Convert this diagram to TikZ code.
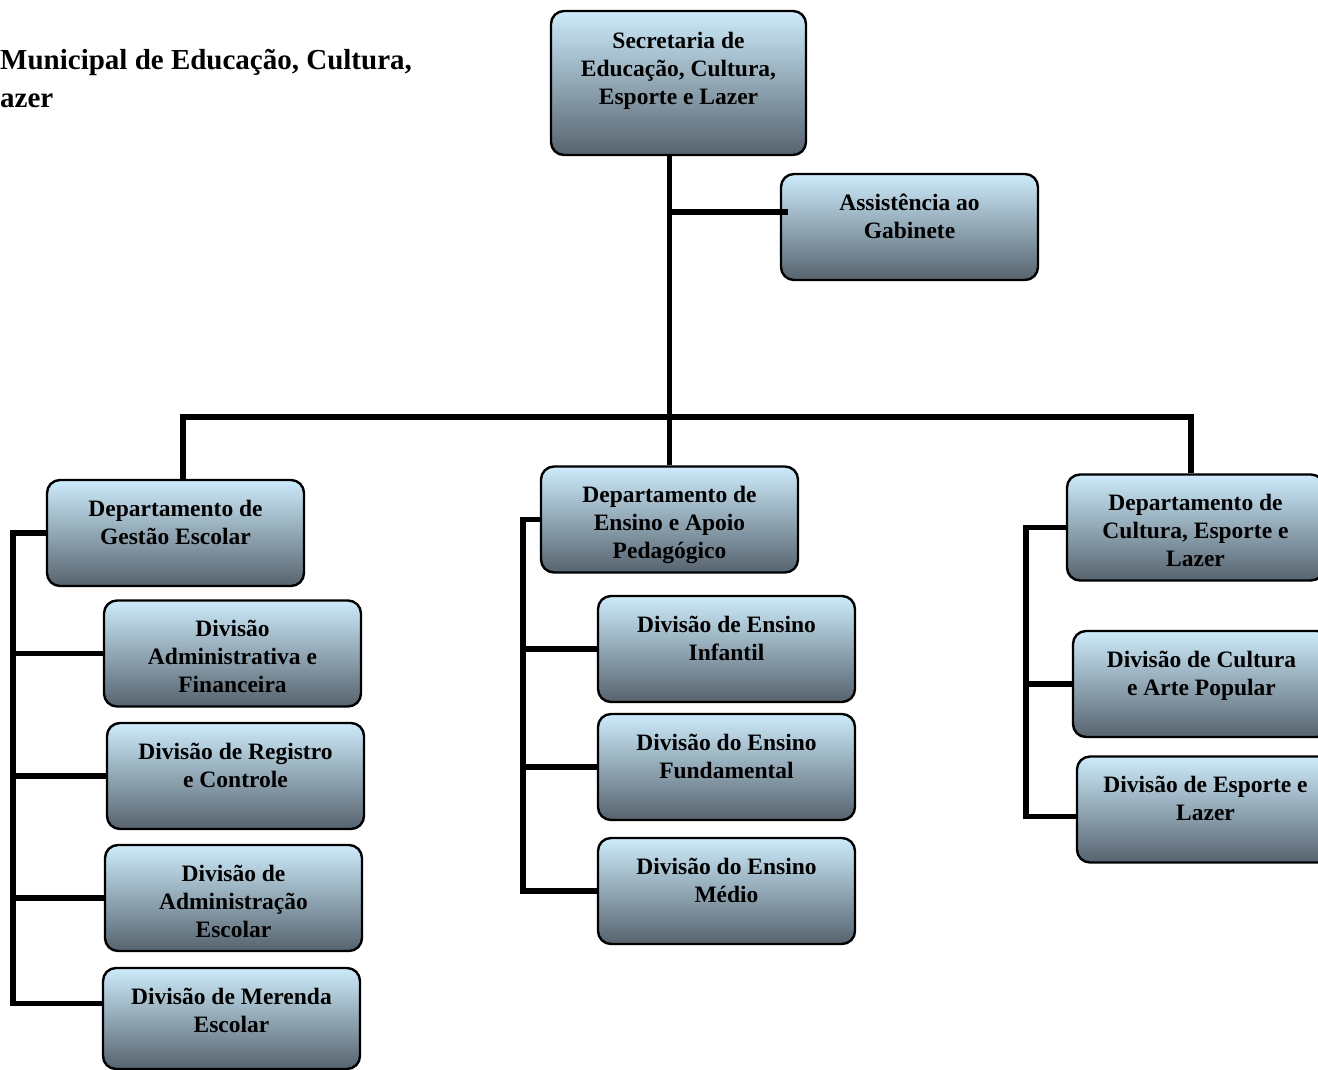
\documentclass[tikz,border=0pt]{standalone}
\usepackage{fontspec}
\setmainfont{Liberation Serif}
\usepackage{tikz}
\definecolor{boxtop}{HTML}{CDEBFB}
\definecolor{boxbot}{HTML}{56636E}
\begin{document}
\begin{tikzpicture}[x=1pt,y=-1pt,
  unitbox/.style={draw=black,line width=2.4pt,rounded corners=13pt,top color=boxtop,bottom color=boxbot,
    minimum width=257pt,minimum height=106pt,inner sep=0pt},
  boxtext/.style={anchor=north,yshift=-21pt,inner sep=0pt,align=center,
    font=\bfseries\fontsize{23.5}{28}\selectfont},
  link/.style={line width=5.5pt}]
\useasboundingbox (0,0) rectangle (1318,1070);
\node[anchor=north west,inner sep=0pt,align=left,font=\bfseries\fontsize{29}{38}\selectfont] (ttl) at (0,49) {Municipal de Educação, Cultura,\\azer};
\node[unitbox,minimum width=255pt,minimum height=144pt,label={[boxtext,yshift=-1pt]north:{Secretaria de\\Educação, Cultura,\\Esporte e Lazer}}] (sec) at (678.5,83) {};
\node[unitbox,label={[boxtext]north:{Assistência ao\\Gabinete}}] (asst) at (909.5,227) {};
\node[unitbox,label={[boxtext]north:{Departamento de\\Gestão Escolar}}] (dgest) at (175.5,533) {};
\node[unitbox,label={[boxtext]north:{Departamento de\\Ensino e Apoio\\Pedagógico}}] (dens) at (669.5,519.5) {};
\node[unitbox,label={[boxtext]north:{Departamento de\\Cultura, Esporte e\\Lazer}}] (dcult) at (1195.5,527.5) {};
\node[unitbox,label={[boxtext]north:{Divisão\\Administrativa e\\Financeira}}] (dvadm) at (232.5,653.5) {};
\node[unitbox,label={[boxtext]north:{Divisão de Registro\\e Controle}}] (dvreg) at (235.5,776) {};
\node[unitbox,label={[boxtext]north:{Divisão de\\Administração\\Escolar}}] (dvaesc) at (233.5,898) {};
\node[unitbox,minimum height=101pt,label={[boxtext]north:{Divisão de Merenda\\Escolar}}] (dvmer) at (231.5,1018.5) {};
\node[unitbox,label={[boxtext]north:{Divisão de Ensino\\Infantil}}] (dvinf) at (726.5,649) {};
\node[unitbox,label={[boxtext]north:{Divisão do Ensino\\Fundamental}}] (dvfund) at (726.5,767) {};
\node[unitbox,label={[boxtext]north:{Divisão do Ensino\\Médio}}] (dvmed) at (726.5,891) {};
\node[unitbox,label={[boxtext]north:{Divisão de Cultura\\e Arte Popular}}] (dvcart) at (1201.5,684) {};
\node[unitbox,label={[boxtext]north:{Divisão de Esporte e\\Lazer}}] (dvesp) at (1205.5,809.5) {};
\coordinate (asstin) at ([xshift=8pt,yshift=15pt]asst.west);
\coordinate (busl) at (183,417);
\coordinate (busr) at (1191,417);
\coordinate (lsp) at (13,0);
\coordinate (msp) at (523,0);
\coordinate (rsp) at (1026,0);
\coordinate (dvmerin) at ([yshift=15pt]dvmer.west);
\coordinate (dvespin) at ([yshift=-7pt]dvesp.west);
\draw[link] (sec.south -| dens.north) -- (dens.north);
\draw[link] (asstin) -- (asstin -| dens.north);
\draw[link] (busl |- dgest.north) -- (busl) -- (busr) -- (busr |- dcult.north);
\draw[link] (dgest.west) -| (lsp |- dvmerin) -- (dvmerin);
\foreach \n in {dvadm,dvreg,dvaesc} \draw[link] (\n.west -| lsp) -- (\n.west);
\draw[link] (dens.west) -| (msp |- dvmed.west) -- (dvmed.west);
\foreach \n in {dvinf,dvfund} \draw[link] (\n.west -| msp) -- (\n.west);
\draw[link] (dcult.west) -| (rsp |- dvespin) -- (dvespin);
\draw[link] (dvcart.west -| rsp) -- (dvcart.west);
\end{tikzpicture}
\end{document}
